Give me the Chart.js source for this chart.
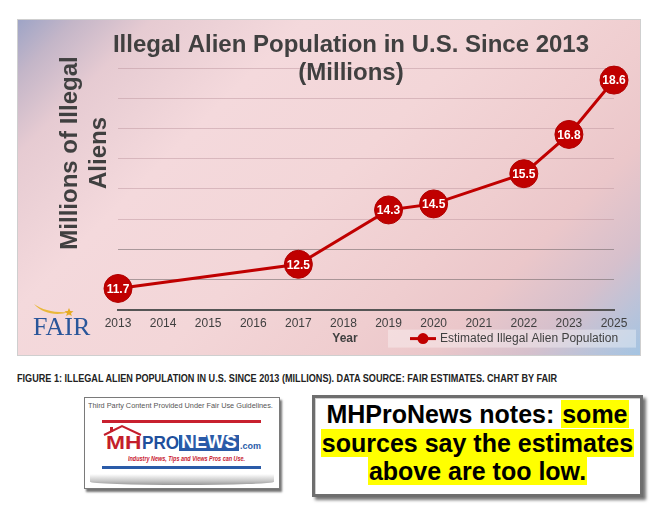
<!DOCTYPE html>
<html lang="en">
<head>
<meta charset="UTF-8">
<title>Illegal Alien Population in U.S. Since 2013</title>
<script src="https://cdn.jsdelivr.net/npm/chart.js"></script>
<style>
  body {
    margin: 0;
    width: 662px;
    height: 506px;
    background: #fff;
    position: relative;
    overflow: hidden;
    font-family: "Liberation Sans", Arial, sans-serif;
  }
  #panel {
    position: absolute;
    left: 17px;
    top: 19px;
    width: 622px;
    height: 335px;
    border: 1px solid #cfcfcf;
    background: linear-gradient(135deg, #9ea4c6 0%, #c4b6c8 6%, #e6cbd2 14%, #f4d9dc 30%,
      #f3d6d8 50%, #efcdcf 68%, #ebc7ca 78%, #d6c0cc 88%, #b8c3da 95%, #a4c4e2 100%);
  }
  #panel canvas { position: absolute; left: 0; top: 0; }
  .fair {
    position: absolute;
    left: 15px;
    top: 292px;
    font-family: "Liberation Serif", "Times New Roman", serif;
    font-size: 26px;
    color: #2a569a;
  }
  .swoosh { position: absolute; left: 15px; top: 281px; }
  .fit { position: absolute; white-space: nowrap; transform-origin: left center; }
  #caption {
    left: 17px; top: 373px;
    font-family: "Liberation Sans Narrow", "Liberation Sans", Arial, sans-serif;
    font-weight: bold; font-size: 10px; color: #222;
  }
  #logoBox {
    position: absolute;
    left: 84px; top: 397px;
    width: 194px; height: 90px;
    border: 1px solid #7a7a7a;
    box-shadow: 2px 3px 2px rgba(0,0,0,0.55);
    background: #fff;
  }
  #logoBox .shade {
    position: absolute; left: 5px; right: 5px; top: 76px; height: 11px;
    background: linear-gradient(#ffffff, #c9c9c9 60%, #9a9a9a);
    border-radius: 0 0 50% 50% / 0 0 30% 30%;
  }
  #noteBox {
    position: absolute;
    left: 312px; top: 395px;
    width: 325px; height: 94px;
    border: 3px solid #6e6e6e;
    box-shadow: 3px 3px 3px rgba(0,0,0,0.55), inset 1px 1px 0 #cfcfcf;
    background: #fff;
    text-align: center;
    font-family: "Liberation Sans", Arial, sans-serif;
    font-weight: bold;
    font-size: 25px;
    line-height: 28.5px;
    color: #000;
    padding-top: 2px;
    box-sizing: content-box;
  }
  #noteBox mark { background: #ffff00; color: #000; padding: 0 1px; }
</style>
</head>
<body>
<div id="panel">
  <canvas id="myChart" width="622" height="335"></canvas>
  <svg class="swoosh" width="44" height="16">
    <path d="M1,3 C9,9 22,12 36,11 C24,15 10,13 1,3 Z" fill="#e9b83a"/>
    <polygon points="36,7 37.3,10 40.5,10.2 38,12.2 38.9,15 36,13.4 33.1,15 34,12.2 31.5,10.2 34.7,10" fill="#e6ab22"/>
  </svg>
  <div class="fair">FAIR</div>
</div>

<div id="caption" class="fit" data-w="540">FIGURE 1: ILLEGAL ALIEN POPULATION IN U.S. SINCE 2013 (MILLIONS). DATA SOURCE: FAIR ESTIMATES. CHART BY FAIR</div>

<div id="logoBox">
  <div class="fit" data-w="185" style="left:3px;top:3px;font-size:8px;color:#555;">Third Party Content Provided Under Fair Use Guidelines.</div>
  <div style="position:absolute;left:17px;top:22px;width:159px;height:3px;background:#c8202f;"></div>
  <svg style="position:absolute;left:18px;top:26px" width="42" height="14">
    <polyline points="1,11 19,2 38,11" fill="none" stroke="#c41e2c" stroke-width="2"/>
    <rect x="7" y="3" width="3" height="5" fill="#c41e2c"/>
  </svg>
  <div class="fit" data-w="36" style="left:21px;top:34px;font-size:19px;font-weight:bold;color:#c41e2c;">MH</div>
  <div class="fit" data-w="37" style="left:57px;top:34px;font-size:19px;font-weight:bold;color:#1f4f9c;">PRO</div>
  <div style="position:absolute;left:94px;top:37px;width:60px;height:16px;background:#2a5ba8;"></div>
  <div class="fit" data-w="56" style="left:96px;top:34px;font-size:18px;font-weight:bold;color:#fff;">NEWS</div>
  <div class="fit" data-w="21" style="left:155px;top:43px;font-size:9px;font-weight:bold;color:#2a5ba8;">.com</div>
  <div class="fit" data-w="117" style="left:43px;top:57px;font-size:7px;font-weight:bold;font-style:italic;color:#c8202f;">Industry News, Tips and Views Pros can Use.</div>
  <div style="position:absolute;left:17px;top:68px;width:159px;height:3px;background:#2a5ba8;"></div>
  <div class="shade"></div>
</div>

<div id="noteBox">MHProNews notes: <mark>some</mark><br><mark>sources say the estimates</mark><br><mark>above are too low.</mark></div>

<script>
  const years = ['2013', '2014', '2015', '2016', '2017', '2018', '2019', '2020', '2021', '2022', '2023', '2025'];
  const population = [11.7, null, null, null, 12.5, null, 14.3, 14.5, null, 15.5, 16.8, 18.6];
  const seriesLabel = 'Estimated Illegal Alien Population';
  const titleLines = ['Illegal Alien Population in U.S. Since 2013', '(Millions)'];
  const yTitleLines = ['Millions of Illegal', 'Aliens'];
  const xTitle = 'Year';
  const yMin = 11;
  const yMax = 19;

  const RED = '#c00000';
  const TEXT = '#404040';
  const FONT = '"Liberation Sans", Arial, sans-serif';

  // title, axis titles, legend and value labels drawn on the canvas
  const decor = {
    id: 'decor',
    afterDatasetsDraw(chart) {
      const ctx = chart.ctx;
      const meta = chart.getDatasetMeta(0);
      ctx.save();
      ctx.font = 'bold 12px ' + FONT;
      ctx.fillStyle = '#fff';
      ctx.textAlign = 'center';
      ctx.textBaseline = 'middle';
      meta.data.forEach((pt, i) => {
        if (population[i] == null || pt.skip) return;
        ctx.fillText(population[i].toFixed(1), pt.x, pt.y + 1);
      });
      ctx.restore();
    },
    afterDraw(chart) {
      const ctx = chart.ctx;
      const a = chart.chartArea;
      ctx.save();
      ctx.fillStyle = TEXT;

      // chart title
      ctx.font = 'bold 24px ' + FONT;
      ctx.textAlign = 'center';
      ctx.textBaseline = 'alphabetic';
      ctx.fillText(titleLines[0], a.left + 233, a.top - 16);
      ctx.fillText(titleLines[1], a.left + 233, a.top + 12);

      // y axis title, rotated
      ctx.save();
      ctx.translate(a.left - 41, a.top + 85);
      ctx.rotate(-Math.PI / 2);
      ctx.fillText(yTitleLines[0], 0, 0);
      ctx.restore();
      ctx.save();
      ctx.translate(a.left - 12, a.top + 85);
      ctx.rotate(-Math.PI / 2);
      ctx.fillText(yTitleLines[1], 0, 0);
      ctx.restore();

      // x axis title
      ctx.font = 'bold 12px ' + FONT;
      ctx.textBaseline = 'middle';
      ctx.fillText(xTitle, a.left + 227, a.bottom + 29);

      // legend
      const lx = a.left + 270, ly = a.bottom + 20;
      ctx.fillStyle = 'rgba(255,255,255,0.35)';
      ctx.fillRect(lx, ly, a.right + 22 - lx, 18);
      const cy = ly + 9;
      ctx.strokeStyle = RED;
      ctx.lineWidth = 3;
      ctx.beginPath();
      ctx.moveTo(lx + 22, cy);
      ctx.lineTo(lx + 48, cy);
      ctx.stroke();
      ctx.fillStyle = RED;
      ctx.beginPath();
      ctx.arc(lx + 35, cy, 5.5, 0, Math.PI * 2);
      ctx.fill();
      ctx.fillStyle = TEXT;
      ctx.font = '12px ' + FONT;
      ctx.textAlign = 'left';
      ctx.fillText(seriesLabel, lx + 52, cy);
      ctx.restore();
    }
  };

  const ctx = document.getElementById('myChart').getContext('2d');
  const myChart = new Chart(ctx, {
    type: 'line',
    data: {
      labels: years,
      datasets: [{
        label: seriesLabel,
        data: population,
        borderColor: RED,
        backgroundColor: RED,
        borderWidth: 3,
        pointRadius: 14,
        pointHoverRadius: 14,
        pointBackgroundColor: RED,
        pointBorderColor: '#b00000',
        pointBorderWidth: 1,
        spanGaps: true,
        tension: 0,
        clip: false
      }]
    },
    options: {
      responsive: false,
      animation: false,
      layout: { padding: { left: 100, right: 26, top: 48, bottom: 17 } },
      plugins: {
        legend: { display: false },
        title: { display: false },
        tooltip: { enabled: false }
      },
      scales: {
        x: {
          offset: false,
          grid: { display: false, drawTicks: false },
          border: { display: true, color: '#555', width: 2 },
          ticks: {
            color: TEXT,
            font: { family: FONT, size: 12 },
            padding: 7,
            autoSkip: false,
            maxRotation: 0
          }
        },
        y: {
          min: yMin,
          max: yMax,
          ticks: { display: false, stepSize: 1 },
          border: { display: false },
          grid: {
            drawTicks: false,
            lineWidth: 1,
            color: c => c.tick && c.tick.value <= 13 ? 'rgba(110,100,102,0.55)' : 'rgba(185,145,152,0.45)'
          }
        }
      }
    },
    plugins: [decor]
  });

  document.querySelectorAll('.fit').forEach(el => {
    const w = +el.dataset.w;
    const s = w / el.scrollWidth;
    el.style.transform = 'scaleX(' + s + ')';
  });
</script>
</body>
</html>
